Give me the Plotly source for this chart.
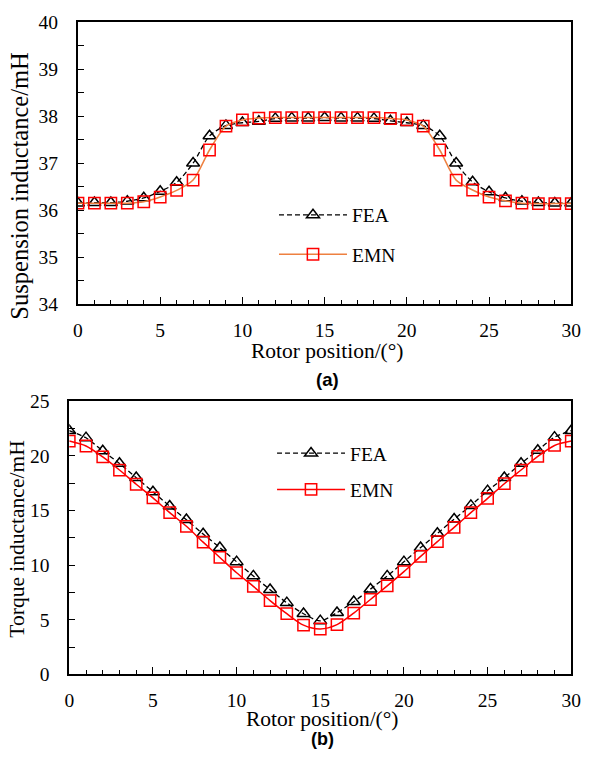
import plotly.graph_objects as go

# ---------------- data ----------------
rotor_pos = list(range(0, 31))

susp_fea = [36.15, 36.16, 36.16, 36.19, 36.26, 36.40, 36.59, 37.00, 37.58, 37.80, 37.86,
            37.89, 37.95, 37.96, 37.96, 37.97, 37.96, 37.96, 37.95, 37.90, 37.86,
            37.80, 37.58, 37.00, 36.60, 36.39, 36.26, 36.19, 36.16, 36.15, 36.15]
susp_emn = [36.15, 36.15, 36.15, 36.15, 36.18, 36.28, 36.42, 36.64, 37.28, 37.79, 37.92,
            37.96, 37.97, 37.97, 37.97, 37.97, 37.97, 37.97, 37.97, 37.95, 37.92,
            37.79, 37.28, 36.64, 36.43, 36.28, 36.20, 36.15, 36.14, 36.14, 36.14]

torq_fea = [22.3, 21.65, 20.45, 19.3, 18.0, 16.7, 15.4, 14.15, 12.85, 11.6, 10.3,
            9.0, 7.75, 6.55, 5.55, 4.9, 5.65, 6.65, 7.8, 9.0, 10.3,
            11.6, 12.9, 14.2, 15.45, 16.8, 18.0, 19.3, 20.5, 21.7, 22.3]
torq_emn = [21.35, 20.9, 19.9, 18.7, 17.4, 16.15, 14.8, 13.55, 12.1, 10.7, 9.3,
            8.05, 6.75, 5.55, 4.5, 4.15, 4.55, 5.6, 6.85, 8.1, 9.4,
            10.8, 12.15, 13.45, 14.8, 16.1, 17.45, 18.7, 19.95, 20.95, 21.35]

series_names = ["FEA", "EMN"]
panel_labels = ["(a)", "(b)"]
x_title = "Rotor position/(°)"
y_titles = ["Suspension inductance/mH", "Torque inductance/mH"]

# ---------------- styling ----------------
W, H = 591, 759
SX, SY, OFF = 0.9736, 0.9765, 8.0   # capture framing compensation

def fx(p):   # page pixel -> paper x
    return p / W

def fy(p):   # page pixel -> paper y
    return 1 - p / H

def rx(p):   # reference pixel -> paper x
    return fx(p / SX - OFF)

def ry(p):   # reference pixel -> paper y
    return fy(p / SY - OFF)

SERIF = "Liberation Serif"
SANS = "Liberation Sans"
TICKF = dict(family=SERIF, size=19.5, color="black")
TITLEF = dict(family=SERIF, size=21.5, color="black")
LEGF = dict(family=SERIF, size=19.5, color="black")

fig = go.Figure()

def add_series(x, y, name, xa, ya, leg, grp, color, dash, marker, mcolor):
    fig.add_trace(go.Scatter(
        x=x, y=y, name=name, xaxis=xa, yaxis=ya, mode="lines+markers",
        line=dict(color=color, width=1.3 if dash else 1.5, dash=dash, shape="spline", smoothing=0.8),
        marker=dict(symbol=marker, size=11.3, color=mcolor, line=dict(width=1.5, color=mcolor)),
        legend=leg, legendgroup=grp))

add_series(rotor_pos, susp_fea, series_names[0], "x", "y", "legend", "a1", "black", "5px,3px", "triangle-up-open", "black")
add_series(rotor_pos, susp_emn, series_names[1], "x", "y", "legend", "a2", "#EE8040", None, "square-open", "red")
add_series(rotor_pos, torq_fea, series_names[0], "x2", "y2", "legend2", "b1", "black", "5px,3px", "triangle-up-open", "black")
add_series(rotor_pos, torq_emn, series_names[1], "x2", "y2", "legend2", "b2", "red", None, "square-open", "red")

common_x = dict(range=[0, 30], dtick=5, tick0=0, ticks="inside", ticklen=7, tickwidth=1.3,
                tickcolor="black", showline=True, linecolor="black", linewidth=2, mirror=True,
                showgrid=False, zeroline=False, tickfont=TICKF, ticklabelstandoff=7,
                minor=dict(dtick=1, ticks="inside", ticklen=4, tickwidth=1.2, tickcolor="black", showgrid=False))
common_y = dict(ticks="inside", ticklen=6, tickwidth=1.3, tickcolor="black", showline=True,
                linecolor="black", linewidth=2, mirror=True, showgrid=False, zeroline=False,
                tickfont=TICKF)

def label(text, x, y, font, angle=0):
    return dict(text=text, x=x, y=y, xref="paper", yref="paper", showarrow=False,
                font=font, xanchor="center", yanchor="middle", textangle=angle)

fig.update_layout(
    width=W, height=H, margin=dict(l=0, r=0, t=0, b=0),
    paper_bgcolor="white", plot_bgcolor="white",
    xaxis=dict(common_x, domain=[rx(80.7), fx(581)], anchor="y"),
    yaxis=dict(common_y, domain=[ry(303.3), ry(20)], anchor="x", range=[34, 40], dtick=1,
               ticklabelstandoff=14,
               minor=dict(dtick=0.5, ticks="inside", ticklen=6, tickwidth=1.2, tickcolor="black", showgrid=False)),
    xaxis2=dict(common_x, domain=[rx(72), fx(581)], anchor="y2"),
    yaxis2=dict(common_y, domain=[ry(675), ry(400.7)], anchor="x2", range=[0, 25], dtick=5,
                ticklabelstandoff=14,
                minor=dict(dtick=2.5, ticks="inside", ticklen=6, tickwidth=1.2, tickcolor="black", showgrid=False)),
    legend=dict(x=fx(276), y=fy(191), xanchor="left", yanchor="top", bgcolor="rgba(0,0,0,0)",
                font=LEGF, itemwidth=68, tracegroupgap=11, borderwidth=0),
    legend2=dict(x=fx(274), y=fy(436), xanchor="left", yanchor="top", bgcolor="rgba(0,0,0,0)",
                 font=LEGF, itemwidth=68, tracegroupgap=8, borderwidth=0),
    annotations=[
        label(x_title, rx(330), ry(350), TITLEF),
        label(x_title, rx(325), ry(720), TITLEF),
        label(y_titles[0], rx(22), ry(185), dict(family=SERIF, size=24.5, color="black"), -90),
        label(y_titles[1], rx(19.5), ry(539), TITLEF, -90),
        label("<b>" + panel_labels[0] + "</b>", rx(330), ry(379), dict(family=SANS, size=18.5, color="black")),
        label("<b>" + panel_labels[1] + "</b>", rx(325), fy(750), dict(family=SANS, size=18, color="black")),
    ],
)

fig.write_html(
    "out.html",
    config={"displayModeBar": False},
    post_script="document.body.style.margin='0';document.body.style.overflow='hidden';",
)
